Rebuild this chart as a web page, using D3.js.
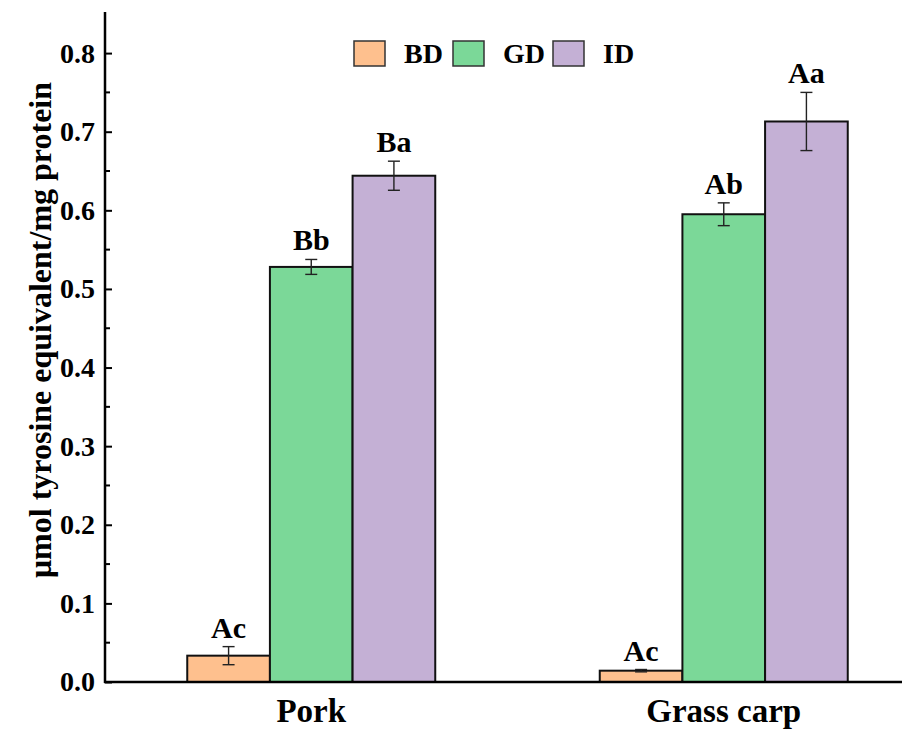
<!DOCTYPE html>
<html><head><meta charset="utf-8">
<script src="https://cdn.jsdelivr.net/npm/d3@7"></script>
<style>body{margin:0;background:#fff}svg{display:block}</style>
</head><body>
<script>
const categories = ["Pork", "Grass carp"];
const seriesNames = ["BD", "GD", "ID"];
const seriesColors = ["#FEC08E", "#7BD898", "#C4B0D5"];
const BD = [0.0335, 0.0144];
const GD = [0.528, 0.595];
const ID = [0.644, 0.713];
const BDerr = [0.0115, 0.0015];
const GDerr = [0.0095, 0.0145];
const IDerr = [0.0185, 0.037];
const BDlabels = ["Ac", "Ac"];
const GDlabels = ["Bb", "Ab"];
const IDlabels = ["Ba", "Aa"];
const yTicks = [0.0, 0.1, 0.2, 0.3, 0.4, 0.5, 0.6, 0.7, 0.8];

const FONT = '"Liberation Serif", "Times New Roman", serif';
const W = 902, H = 729;
const svg = d3.select("body").append("svg").attr("width", W).attr("height", H)
  .style("font-family", FONT).style("font-weight", "bold");
const y = d3.scaleLinear().domain([0, 0.851]).range([682, 13]);
const x0 = d3.scaleBand().domain(categories).range([105, 930]).paddingInner(0).paddingOuter(0);
const x1 = d3.scaleBand().domain(seriesNames).range([0, 248]);
const offset = (x0.bandwidth() - 248) / 2;

const vals = [BD, GD, ID], errs = [BDerr, GDerr, IDerr], labs = [BDlabels, GDlabels, IDlabels];
const data = [];
categories.forEach((c, i) => seriesNames.forEach((s, j) => data.push({c, s, j, v: vals[j][i], e: errs[j][i], l: labs[j][i]})));

const g = svg.append("g");
g.selectAll("rect.bar").data(data).enter().append("rect")
  .attr("x", d => x0(d.c) + offset + x1(d.s))
  .attr("y", d => y(d.v))
  .attr("width", x1.bandwidth())
  .attr("height", d => y(0) - y(d.v))
  .attr("fill", d => seriesColors[d.j])
  .attr("stroke", "#111").attr("stroke-width", 2);

const cx = d => x0(d.c) + offset + x1(d.s) + x1.bandwidth() / 2;
const eg = g.selectAll("g.err").data(data).enter().append("g").attr("stroke", "#222").attr("stroke-width", 1.4);
eg.append("line").attr("x1", cx).attr("x2", cx).attr("y1", d => y(d.v + d.e)).attr("y2", d => y(d.v - d.e));
eg.append("line").attr("x1", d => cx(d) - 6).attr("x2", d => cx(d) + 6).attr("y1", d => y(d.v + d.e)).attr("y2", d => y(d.v + d.e));
eg.append("line").attr("x1", d => cx(d) - 6).attr("x2", d => cx(d) + 6).attr("y1", d => y(d.v - d.e)).attr("y2", d => y(d.v - d.e));

g.selectAll("text.lab").data(data).enter().append("text")
  .attr("x", cx).attr("y", d => y(d.v + d.e) - 9)
  .attr("text-anchor", "middle").attr("font-size", 30)
  .style("font-family", FONT).style("font-weight", "bold").text(d => d.l);

// y axis
const yAxis = d3.axisLeft(y).tickValues(yTicks).tickFormat(d3.format(".1f")).tickSize(-7).tickPadding(10);
const ya = svg.append("g").attr("transform", "translate(105,0)").call(yAxis);
ya.attr("font-family", null).attr("font-size", null);
ya.select(".domain").remove();
ya.selectAll(".tick line").attr("stroke", "#000").attr("stroke-width", 2);
ya.selectAll(".tick text").attr("font-size", 28).attr("fill", "#000")
  .style("font-family", FONT).style("font-weight", "bold");
const minor = d3.range(0.05, 0.85, 0.1);
svg.append("g").selectAll("line").data(minor).enter().append("line")
  .attr("x1", 105).attr("x2", 110).attr("y1", d => y(d)).attr("y2", d => y(d))
  .attr("stroke", "#000").attr("stroke-width", 2);
svg.append("line").attr("x1", 105).attr("x2", 105).attr("y1", 12).attr("y2", 683).attr("stroke", "#000").attr("stroke-width", 2.5);

// x axis
svg.append("line").attr("x1", 104).attr("x2", W).attr("y1", 682).attr("y2", 682).attr("stroke", "#000").attr("stroke-width", 2.5);
svg.append("g").selectAll("text").data(categories).enter().append("text")
  .attr("x", d => x0(d) + x0.bandwidth() / 2).attr("y", 722)
  .attr("text-anchor", "middle").attr("font-size", 33)
  .style("font-family", FONT).style("font-weight", "bold").text(d => d);

// y label
svg.append("text").attr("transform", "translate(51,330) rotate(-90)")
  .attr("text-anchor", "middle").attr("font-size", 32)
  .style("font-family", FONT).style("font-weight", "bold")
  .text("μmol tyrosine equivalent/mg protein");

// legend
const legX = [354, 453, 553];
const lg = svg.append("g").selectAll("g").data(seriesNames).enter().append("g");
lg.append("rect").attr("x", (d, i) => legX[i]).attr("y", 41).attr("width", 31).attr("height", 25)
  .attr("fill", (d, i) => seriesColors[i]).attr("stroke", "#333").attr("stroke-width", 1.5);
lg.append("text").attr("x", (d, i) => legX[i] + 50).attr("y", 63).attr("font-size", 28)
  .style("font-family", FONT).style("font-weight", "bold").text(d => d);
</script>
</body></html>
